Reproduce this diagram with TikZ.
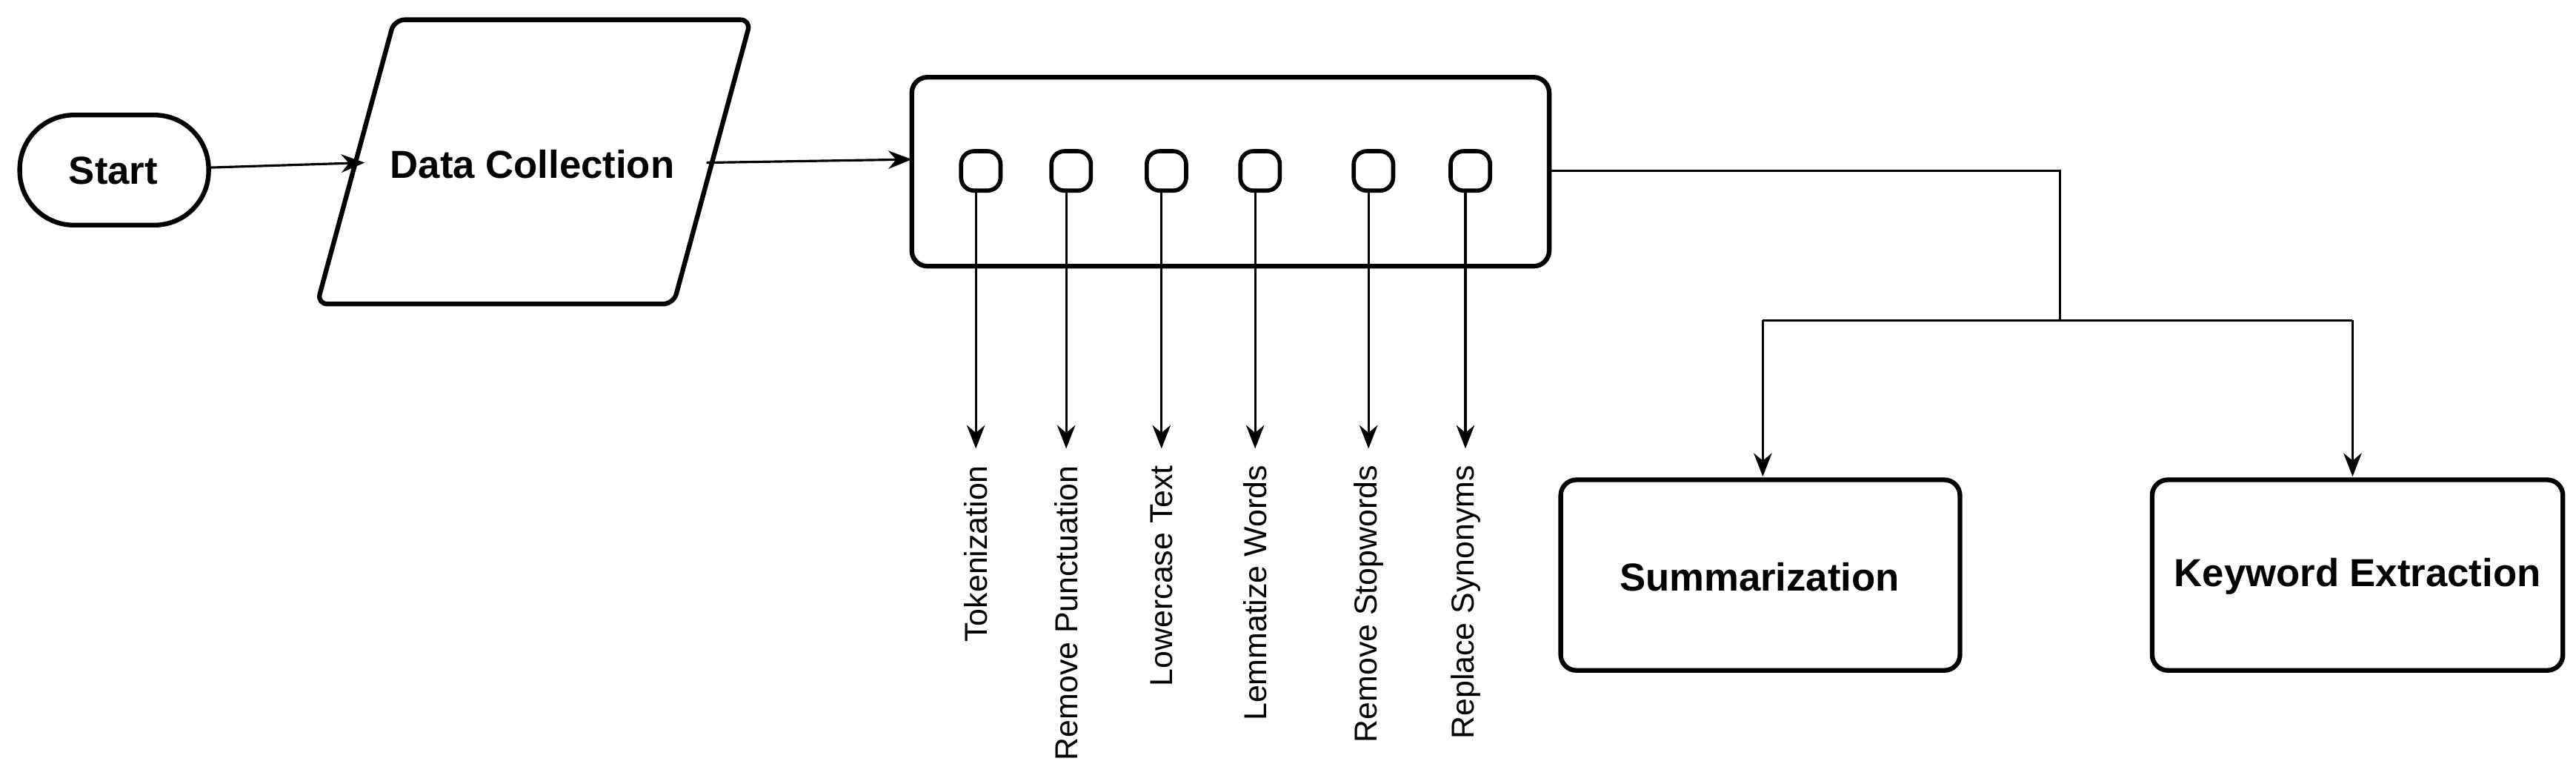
\documentclass[tikz,border=0pt]{standalone}
\usepackage{fontspec}
\setmainfont{Liberation Sans}
\usetikzlibrary{arrows.meta}
\begin{document}
\begin{tikzpicture}[x=0.02218cm,y=-0.02218cm,
  box/.style={draw,line width=1.8pt,rounded corners=6pt},
  lbl/.style={font=\bfseries\fontsize{15}{17}\selectfont},
  arr/.style={-{Stealth[length=9pt,width=7pt]},line width=0.9pt},
  ln/.style={line width=0.9pt},
  vl/.style={rotate=90,anchor=east,font=\fontsize{12.2}{14}\selectfont,inner sep=0pt}]
\useasboundingbox (0,0) rectangle (1568,475);
\draw[box,rounded corners=33*0.02218cm] (12,70) rectangle (127,137);
\node[lbl] (st) at (69,104) {Start};
\coordinate (stR) at (127,102);
\draw[line width=1.8pt,line join=round,rounded corners=4pt] (240,12) -- (457,12) -- (410,185) -- (193,185) -- cycle;
\node[lbl] (dc) at (324,100) {Data Collection};
\coordinate (dcL) at (222,99);
\coordinate (dcR) at (430,99);
\draw[arr] (stR) -- (dcL);
\draw[box] (555,47) rectangle (943,162);
\coordinate (bxL) at (555,97);
\draw[arr] (dcR) -- (bxL);
\foreach \x/\n/\t in {597/a/Tokenization,652/b/Remove Punctuation,710/c/Lowercase Text,767/d/Lemmatize Words,836/e/Remove Stopwords,895/f/Replace Synonyms}{
  \draw[box,rounded corners=5pt,line width=1.6pt] (\x-12,92) rectangle (\x+12,116);
  \coordinate (s\n) at (\x-3,116);
  \coordinate (e\n) at (\x-3,273);
  \draw[arr] (s\n) -- (e\n);
  \node[vl] (l\n) at (\x-3,283) {\t};
}
\draw[box] (950,292) rectangle (1193,408);
\node[lbl] (sum) at (1071,351) {Summarization};
\draw[box] (1310,292) rectangle (1560,408);
\node[lbl] (kw) at (1435,351) {Keyword Extraction};
\coordinate (bxR) at (943,104);
\coordinate (c1) at (1254,104);
\coordinate (c2) at (1254,195);
\coordinate (c3) at (1073,195);
\coordinate (c4) at (1432,195);
\coordinate (t1) at (1073,290);
\coordinate (t2) at (1432,290);
\draw[ln] (bxR) -- (c1) -- (c2);
\draw[ln] (c3) -- (c4);
\draw[arr] (c3) -- (t1);
\draw[arr] (c4) -- (t2);
\end{tikzpicture}
\end{document}
